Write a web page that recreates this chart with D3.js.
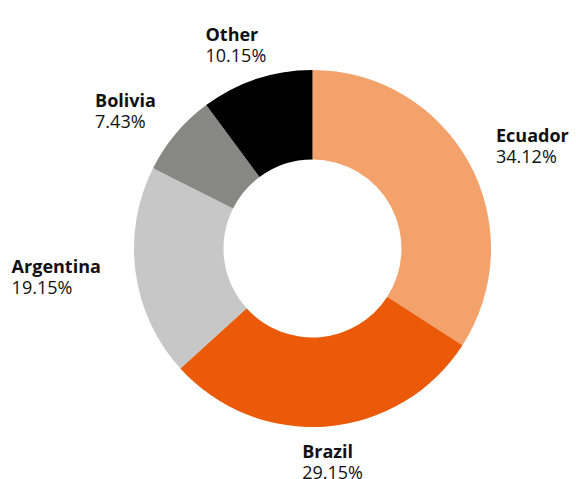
<!DOCTYPE html>
<html>
<head>
<meta charset="utf-8">
<script src="https://cdn.jsdelivr.net/npm/d3@7"></script>
<style>
  body { margin: 0; background: #fff; }
  text { font-family: "Open Sans", "Noto Sans", sans-serif; fill: #111; }
</style>
</head>
<body>
<div class="container"></div>
<script>
// shares, clockwise from 12 o'clock
const countries = ["Ecuador", "Brazil", "Argentina", "Bolivia", "Other"];
const shares = [34.12, 29.15, 19.15, 7.43, 10.15];
const colours = ["#f4a26c", "#ea5a08", "#c6c7c6", "#878786", "#000000"];

var width = 576, height = 479;
var cx = 312.5, cy = 248.5;
var outer = 178.5, inner = 89;

var svg = d3.select(".container").append("svg")
    .attr("width", width)
    .attr("height", height);

var g = svg.append("g").attr("transform", `translate(${cx},${cy})`);

const rows = countries.map((c, i) => ({name: c, value: shares[i], colour: colours[i]}));

const pie = d3.pie().sort(null).value(d => d.value);
const arc = d3.arc().innerRadius(inner).outerRadius(outer);
const labelArc = d3.arc().innerRadius(214).outerRadius(214);

const slices = pie(rows);

g.selectAll("path")
  .data(slices)
  .enter()
  .append("path")
  .attr("d", arc)
  .attr("fill", d => d.data.colour);

// label blocks: bold name + percentage, left aligned inside the block
const labels = g.selectAll("g.lbl")
  .data(slices)
  .enter()
  .append("g")
  .attr("class", "lbl");

labels.append("text")
  .attr("font-size", "18px")
  .attr("font-weight", "bold")
  .attr("y", -4)
  .text(d => d.data.name);

labels.append("text")
  .attr("font-size", "18px")
  .attr("y", 17)
  .text(d => d.data.value.toFixed(2) + "%");

labels.each(function(d){
    const node = d3.select(this);
    const w = this.getBBox().width;
    const [px, py] = labelArc.centroid(d);
    const mid = (d.startAngle + d.endAngle) / 2;
    const f = (1 - Math.sin(mid)) / 2;   // how far the block hangs left of its point
    node.attr("transform", `translate(${px - w * f},${py})`);
});
</script>
</body>
</html>
